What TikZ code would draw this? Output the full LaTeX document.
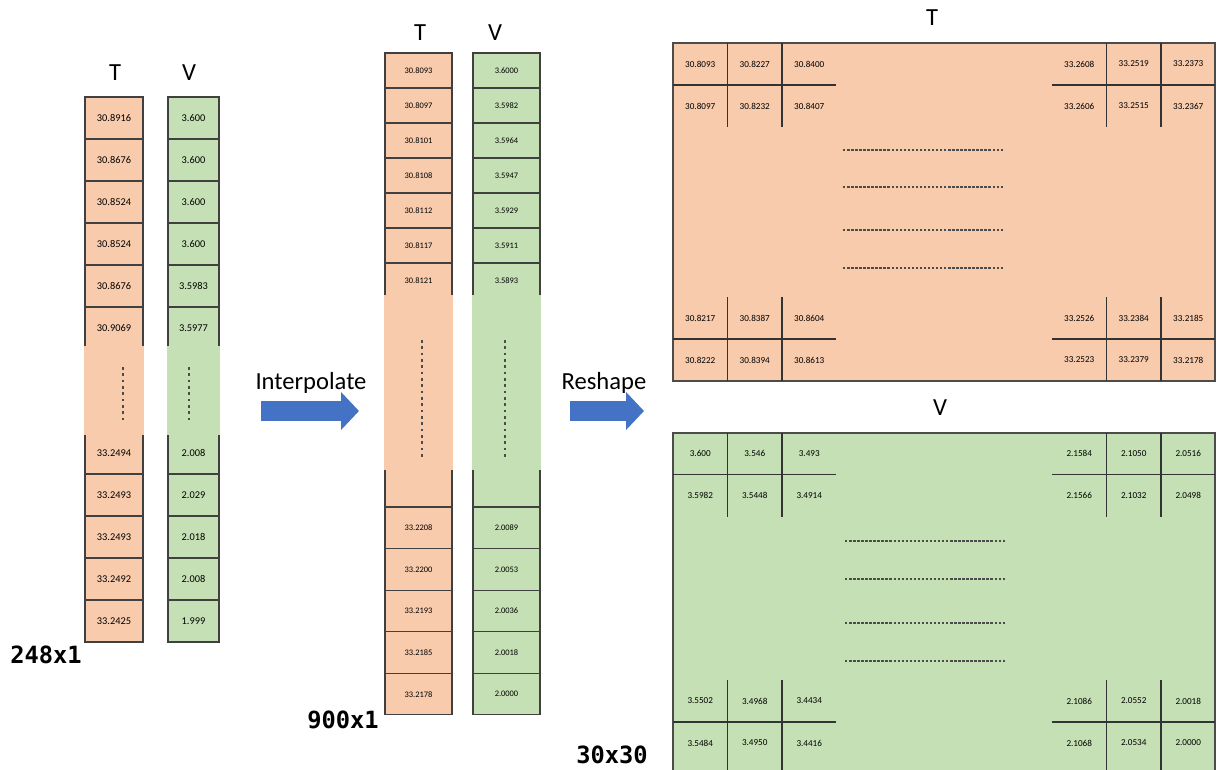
\documentclass[tikz,border=0pt]{standalone}
\usepackage{fontspec}
\setmainfont{Carlito}
\newfontfamily\sizefont{DejaVu Sans Mono}
\usetikzlibrary{arrows.meta,positioning}
\definecolor{tpeach}{HTML}{F8CBAD}
\definecolor{vgreen}{HTML}{C5E0B4}
\definecolor{arrowblue}{HTML}{4472C4}
\tikzset{
cell/.style={draw=black!75,line width=.6pt,inner sep=0pt,outer sep=0pt,text=black},
ltcell/.style={cell,fill=tpeach,minimum width=1.16cm,minimum height=.84cm,font=\fontsize{5.9}{7}\selectfont},
lvcell/.style={cell,fill=vgreen,minimum width=1.02cm,minimum height=.84cm,font=\fontsize{5.9}{7}\selectfont},
mtcell/.style={cell,fill=tpeach,minimum width=1.34cm,minimum height=.7cm,font=\fontsize{4.8}{5.5}\selectfont},
mvcell/.style={cell,fill=vgreen,minimum width=1.34cm,minimum height=.7cm,font=\fontsize{4.8}{5.5}\selectfont},
lowcell/.style={minimum height=.832cm},
mcell/.style={inner sep=0pt,outer sep=0pt,minimum width=1.09cm,minimum height=.84cm,text=black,font=\fontsize{5.2}{6}\selectfont},
matbox/.style={draw=black!70,line width=.7pt,inner sep=0pt,minimum width=10.84cm,minimum height=6.76cm},
grid/.style={draw=black!80,line width=.8pt},
vdots/.style={draw=black!70,line width=1.6pt,dash pattern=on 1.6pt off 2pt},
hdots/.style={draw=black!70,line width=1.2pt,dash pattern=on 1.4pt off .9pt},
head/.style={font=\fontsize{14}{16}\selectfont},
sizelabel/.style={font=\sizefont\bfseries\fontsize{13.5}{15}\selectfont},
blockarrow/.style={arrowblue,line width=.4cm,-{Triangle[length=.36cm,width=.74cm]}}
}

\begin{document}
\begin{tikzpicture}[x=0.02cm,y=-0.02cm,node distance=0pt]
\useasboundingbox (0,0) rectangle (1217,769);

% 248x1 columns
\node[head] (ltT) at (115,73) {T};
\node[head] (lvV) at (189,73) {V};
\node[ltcell] (lt1) at (114,118) {30.8916};
\node[ltcell,below=of lt1] (lt2) {30.8676};
\node[ltcell,below=of lt2] (lt3) {30.8524};
\node[ltcell,below=of lt3] (lt4) {30.8524};
\node[ltcell,below=of lt4] (lt5) {30.8676};
\node[ltcell,below=of lt5] (lt6) {30.9069};
\node[ltcell] (lt7) at (114,453) {33.2494};
\node[ltcell,below=of lt7] (lt8) {33.2493};
\node[ltcell,below=of lt8] (lt9) {33.2493};
\node[ltcell,below=of lt9] (lt10) {33.2492};
\node[ltcell,below=of lt10] (lt11) {33.2425};
\fill[tpeach] ([xshift=-.3pt,yshift=1.5pt]lt6.south west) rectangle ([xshift=.3pt,yshift=-1.5pt]lt7.north east);
\draw[vdots] (123,367) -- (123,421);

\node[lvcell] (lv1) at (193.5,118) {3.600};
\node[lvcell,below=of lv1] (lv2) {3.600};
\node[lvcell,below=of lv2] (lv3) {3.600};
\node[lvcell,below=of lv3] (lv4) {3.600};
\node[lvcell,below=of lv4] (lv5) {3.5983};
\node[lvcell,below=of lv5] (lv6) {3.5977};
\node[lvcell] (lv7) at (193.5,453) {2.008};
\node[lvcell,below=of lv7] (lv8) {2.029};
\node[lvcell,below=of lv8] (lv9) {2.018};
\node[lvcell,below=of lv9] (lv10) {2.008};
\node[lvcell,below=of lv10] (lv11) {1.999};
\fill[vgreen] ([xshift=-.3pt,yshift=1.5pt]lv6.south west) rectangle ([xshift=.3pt,yshift=-1.5pt]lv7.north east);
\draw[vdots] (189,367) -- (189,421);
\node[sizelabel] (size1) at (46,655) {248x1};

% interpolate
\coordinate (ia) at (261,411);
\coordinate (ib) at (359,411);
\draw[blockarrow] (ia) -- (ib);
\node[head] (interp) at (311,383) {Interpolate};

% 900x1 columns
\node[head] (mtT) at (420,33) {T};
\node[head] (mvV) at (495,33) {V};
\node[mtcell] (mt1) at (418.5,70.5) {30.8093};
\node[mtcell,below=of mt1] (mt2) {30.8097};
\node[mtcell,below=of mt2] (mt3) {30.8101};
\node[mtcell,below=of mt3] (mt4) {30.8108};
\node[mtcell,below=of mt4] (mt5) {30.8112};
\node[mtcell,below=of mt5] (mt6) {30.8117};
\node[mtcell,below=of mt6] (mt7) {30.8121};
\node[mtcell,minimum height=.8cm] (mt8) at (418.5,487) {};
\node[mtcell,lowcell,below=of mt8] (mt9) {33.2208};
\node[mtcell,lowcell,below=of mt9] (mt10) {33.2200};
\node[mtcell,lowcell,below=of mt10] (mt11) {33.2193};
\node[mtcell,lowcell,below=of mt11] (mt12) {33.2185};
\node[mtcell,lowcell,below=of mt12] (mt13) {33.2178};
\fill[tpeach] ([xshift=-.3pt,yshift=1.5pt]mt7.south west) rectangle ([xshift=.3pt,yshift=-1.5pt]mt8.north east);
\draw[vdots] (422,340) -- (422,459);

\node[mvcell] (mv1) at (506.5,70.5) {3.6000};
\node[mvcell,below=of mv1] (mv2) {3.5982};
\node[mvcell,below=of mv2] (mv3) {3.5964};
\node[mvcell,below=of mv3] (mv4) {3.5947};
\node[mvcell,below=of mv4] (mv5) {3.5929};
\node[mvcell,below=of mv5] (mv6) {3.5911};
\node[mvcell,below=of mv6] (mv7) {3.5893};
\node[mvcell,minimum height=.8cm] (mv8) at (506.5,487) {};
\node[mvcell,lowcell,below=of mv8] (mv9) {2.0089};
\node[mvcell,lowcell,below=of mv9] (mv10) {2.0053};
\node[mvcell,lowcell,below=of mv10] (mv11) {2.0036};
\node[mvcell,lowcell,below=of mv11] (mv12) {2.0018};
\node[mvcell,lowcell,below=of mv12] (mv13) {2.0000};
\fill[vgreen] ([xshift=-.3pt,yshift=1.5pt]mv7.south west) rectangle ([xshift=.3pt,yshift=-1.5pt]mv8.north east);
\draw[vdots] (505,340) -- (505,459);
\node[sizelabel] (size2) at (343,720) {900x1};

% reshape
\coordinate (ra) at (570,411);
\coordinate (rb) at (644,411);
\draw[blockarrow] (ra) -- (rb);
\node[head] (reshape) at (604,383) {Reshape};

% T matrix
\node[head] (matT) at (932,18) {T};
\node[matbox,fill=tpeach] (tmat) at (944,212) {};
\node[mcell] (ta11) at (700.25,64) {30.8093};
\node[mcell,right=of ta11] (ta12) {30.8227};
\node[mcell,right=of ta12] (ta13) {30.8400};
\node[mcell,below=of ta11] (ta21) {30.8097};
\node[mcell,right=of ta21] (ta22) {30.8232};
\node[mcell,right=of ta22] (ta23) {30.8407};
\node[mcell] (tb11) at (1079.25,64) {33.2608};
\node[mcell,right=of tb11] (tb12) {33.2519};
\node[mcell,right=of tb12] (tb13) {33.2373};
\node[mcell,below=of tb11] (tb21) {33.2606};
\node[mcell,right=of tb21] (tb22) {33.2515};
\node[mcell,right=of tb22] (tb23) {33.2367};
\node[mcell] (tc11) at (700.25,318) {30.8217};
\node[mcell,right=of tc11] (tc12) {30.8387};
\node[mcell,right=of tc12] (tc13) {30.8604};
\node[mcell,below=of tc11] (tc21) {30.8222};
\node[mcell,right=of tc21] (tc22) {30.8394};
\node[mcell,right=of tc22] (tc23) {30.8613};
\node[mcell] (td11) at (1079.25,318) {33.2526};
\node[mcell,right=of td11] (td12) {33.2384};
\node[mcell,right=of td12] (td13) {33.2185};
\node[mcell,below=of td11] (td21) {33.2523};
\node[mcell,right=of td21] (td22) {33.2379};
\node[mcell,right=of td22] (td23) {33.2178};
\draw[grid] (ta11.north east) -- (ta21.south east) (ta12.north east) -- (ta22.south east) (ta11.south west) -- (ta13.south east);
\draw[grid] (tb11.north east) -- (tb21.south east) (tb12.north east) -- (tb22.south east) (tb11.south west) -- (tb13.south east);
\draw[grid] (tc11.north east) -- (tc21.south east) (tc12.north east) -- (tc22.south east) (tc11.south west) -- (tc13.south east);
\draw[grid] (td11.north east) -- (td21.south east) (td12.north east) -- (td22.south east) (td11.south west) -- (td13.south east);
\draw[hdots] (843,150) -- (1003,150);
\draw[hdots] (843,187) -- (1003,187);
\draw[hdots] (843,230) -- (1003,230);
\draw[hdots] (843,268) -- (1003,268);

% V matrix
\node[head] (matV) at (940,408) {V};
\node[matbox,fill=vgreen] (vmat) at (944,602) {};
\node[mcell] (va11) at (700.25,453.5) {3.600};
\node[mcell,right=of va11] (va12) {3.546};
\node[mcell,right=of va12] (va13) {3.493};
\node[mcell,below=of va11] (va21) {3.5982};
\node[mcell,right=of va21] (va22) {3.5448};
\node[mcell,right=of va22] (va23) {3.4914};
\node[mcell] (vb11) at (1079.25,453.5) {2.1584};
\node[mcell,right=of vb11] (vb12) {2.1050};
\node[mcell,right=of vb12] (vb13) {2.0516};
\node[mcell,below=of vb11] (vb21) {2.1566};
\node[mcell,right=of vb21] (vb22) {2.1032};
\node[mcell,right=of vb22] (vb23) {2.0498};
\node[mcell] (vc11) at (700.25,701) {3.5502};
\node[mcell,right=of vc11] (vc12) {3.4968};
\node[mcell,right=of vc12] (vc13) {3.4434};
\node[mcell,below=of vc11] (vc21) {3.5484};
\node[mcell,right=of vc21] (vc22) {3.4950};
\node[mcell,right=of vc22] (vc23) {3.4416};
\node[mcell] (vd11) at (1079.25,701) {2.1086};
\node[mcell,right=of vd11] (vd12) {2.0552};
\node[mcell,right=of vd12] (vd13) {2.0018};
\node[mcell,below=of vd11] (vd21) {2.1068};
\node[mcell,right=of vd21] (vd22) {2.0534};
\node[mcell,right=of vd22] (vd23) {2.0000};
\draw[grid] (va11.north east) -- (va21.south east) (va12.north east) -- (va22.south east) (va11.south west) -- (va13.south east);
\draw[grid] (vb11.north east) -- (vb21.south east) (vb12.north east) -- (vb22.south east) (vb11.south west) -- (vb13.south east);
\draw[grid] (vc11.north east) -- ([yshift=-.2cm]vc21.south east) (vc12.north east) -- ([yshift=-.2cm]vc22.south east) (vc11.south west) -- (vc13.south east);
\draw[grid] (vd11.north east) -- ([yshift=-.2cm]vd21.south east) (vd12.north east) -- ([yshift=-.2cm]vd22.south east) (vd11.south west) -- (vd13.south east);
\draw[hdots] (845,541) -- (1005,541);
\draw[hdots] (845,579) -- (1005,579);
\draw[hdots] (845,623) -- (1005,623);
\draw[hdots] (845,661) -- (1005,661);
\node[sizelabel] (size3) at (612,755) {30x30};
\end{tikzpicture}
\end{document}
